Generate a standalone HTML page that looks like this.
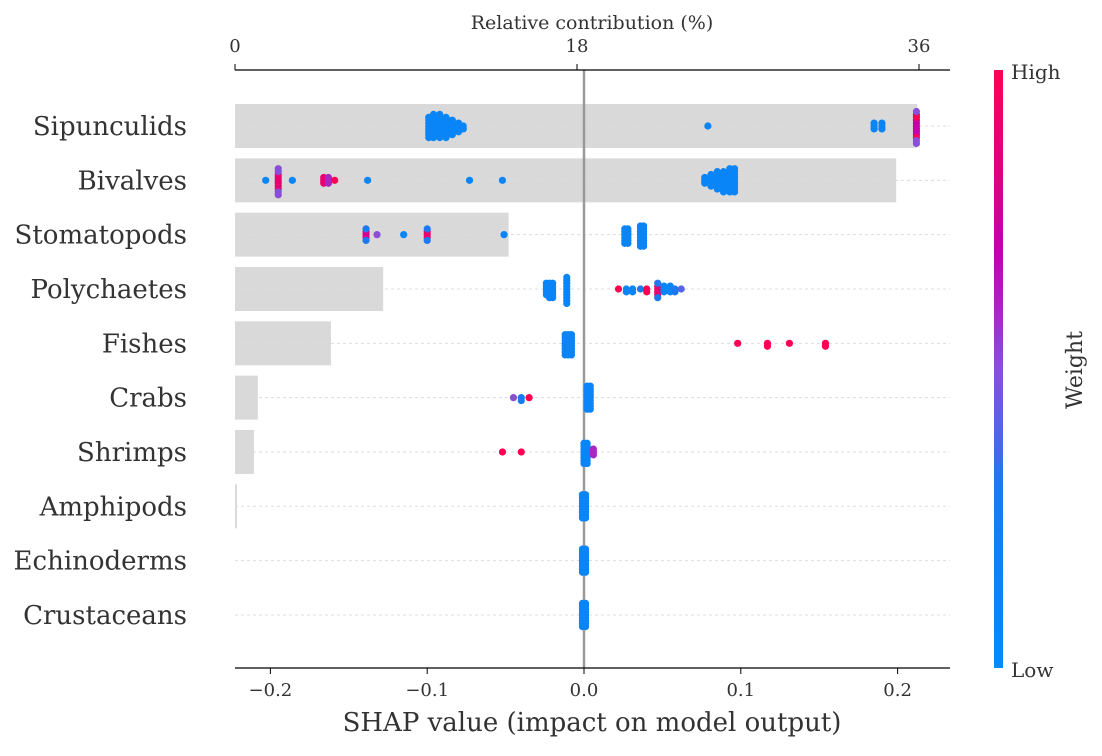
<!DOCTYPE html>
<html><head><meta charset="utf-8"><style>
body{margin:0;background:#fff;}
svg text{font-family:"DejaVu Serif","Liberation Serif",serif;fill:#333;}
</style></head><body>
<svg id="chart" width="1102" height="751" xmlns="http://www.w3.org/2000/svg">
<defs><linearGradient id="cb" x1="0" y1="1" x2="0" y2="0">
<stop offset="0" stop-color="#008bfb"/><stop offset="0.3" stop-color="#1e78f0"/><stop offset="0.5" stop-color="#8a4fd8"/><stop offset="0.7" stop-color="#c400a8"/><stop offset="1" stop-color="#ff0052"/></linearGradient></defs>
<g id="bars"></g><g id="grid"></g><g id="dots"></g><g id="axes"></g>
</svg>
<script>
const categories=["Sipunculids","Bivalves","Stomatopods","Polychaetes","Fishes","Crabs","Shrimps","Amphipods","Echinoderms","Crustaceans"];
const contribution=[35.9,34.8,14.4,7.8,5.05,1.2,1.0,0.1,0,0];
const bottomTicks=[-0.2,-0.1,0.0,0.1,0.2];
const topTicks=[0,18,36];
// [shap value, weight (0 low - 1 high), count]
const shapSipunculids=[[-0.099,0.1,8],[-0.096,0.1,9],[-0.092,0.1,9],[-0.088,0.1,8],[-0.084,0.1,6],[-0.08,0.1,4],[-0.077,0.1,2],[0.079,0.1,1],[0.185,0.1,3],[0.19,0.1,3],[0.212,0.7,6],[0.212,1,3],[0.212,0.5,3]];
const shapBivalves=[[-0.203,0.1,1],[-0.195,0.9,6],[-0.195,0.5,4],[-0.186,0.1,1],[-0.166,0.9,3],[-0.163,0.6,3],[-0.159,1,1],[-0.138,0.1,1],[-0.073,0.1,1],[-0.052,0.1,1],[0.077,0.1,3],[0.081,0.1,5],[0.085,0.1,7],[0.089,0.1,8],[0.093,0.1,9],[0.096,0.1,9]];
const shapStomatopods=[[-0.139,0.8,3],[-0.139,0.3,2],[-0.132,0.5,1],[-0.115,0.1,1],[-0.1,0.9,3],[-0.1,0.3,2],[-0.051,0.1,1],[0.026,0.1,6],[0.028,0.1,6],[0.036,0.1,8],[0.038,0.1,8]];
const shapPolychaetes=[[-0.024,0.1,5],[-0.022,0.1,6],[-0.02,0.1,6],[-0.011,0.1,10],[0.022,1,1],[0.027,0.1,2],[0.031,0.1,2],[0.036,0.3,1],[0.04,1,2],[0.047,0.9,4],[0.047,0.3,2],[0.051,0.1,3],[0.055,0.1,3],[0.058,0.3,2],[0.062,0.4,1]];
const shapFishes=[[-0.012,0.1,8],[-0.01,0.1,8],[-0.008,0.1,8],[0.098,1,1],[0.117,1,2],[0.131,1,1],[0.154,1,2]];
const shapCrabs=[[-0.045,0.5,1],[-0.04,0.2,2],[-0.035,1,1],[0.002,0.1,9],[0.004,0.1,9]];
const shapShrimps=[[-0.052,1,1],[-0.04,1,1],[0.0,0.1,8],[0.002,0.1,8],[0.006,0.6,3]];
const shapAmphipods=[[-0.001,0.1,9],[0.001,0.1,9]];
const shapEchinoderms=[[-0.001,0.1,9],[0.001,0.1,9]];
const shapCrustaceans=[[-0.001,0.1,9],[0.001,0.1,9]];
const series=[shapSipunculids,shapBivalves,shapStomatopods,shapPolychaetes,shapFishes,shapCrabs,shapShrimps,shapAmphipods,shapEchinoderms,shapCrustaceans];

const NS="http://www.w3.org/2000/svg";
const X0=235,X1=950,YT=70,YB=668;
const xs=v=>584+v*1568;
const xt=p=>235+p*19;
const yr=i=>126+i*54.33;
function el(t,a,p){const e=document.createElementNS(NS,t);for(const k in a)e.setAttribute(k,a[k]);(p||document.getElementById('chart')).appendChild(e);return e;}
function col(w){const s=[[0,[0,139,251]],[0.3,[30,120,240]],[0.5,[138,79,216]],[0.7,[196,0,168]],[1,[255,0,82]]];
for(let i=1;i<s.length;i++){if(w<=s[i][0]){const t=(w-s[i-1][0])/(s[i][0]-s[i-1][0]);const c=s[i-1][1].map((a,j)=>Math.round(a+(s[i][1][j]-a)*t));return `rgb(${c})`;}}return 'rgb(255,0,82)';}
const gB=document.getElementById('bars'),gG=document.getElementById('grid'),gD=document.getElementById('dots'),gA=document.getElementById('axes');
categories.forEach((c,i)=>{
 const y=yr(i);
 const w=xt(contribution[i])-X0;
 if(w>0){const b=el('rect',{x:X0,y:y-22,width:w,height:44,fill:'#d9d9d9'},gB);
 
 }
 const g=el('line',{x1:X0,x2:X1,y1:y,y2:y,stroke:'#ddd','stroke-dasharray':'3,3','stroke-width':1},gG);
 
 
 const t=el('text',{x:187,y:y+9,'text-anchor':'end','font-size':26},gA);t.textContent=c;
 
 
 const bins={};
 series[i].forEach(([v,wt,n])=>{for(let k=0;k<n;k++){const px=xs(v);const key=Math.round(px/3);bins[key]=(bins[key]||0)+1;const m=bins[key]-1;const off=Math.ceil(m/2)*2.9*(m%2?1:-1);
 const d=el('circle',{cx:px,cy:y+off,r:3.6,fill:col(wt)},gD);
 
 }});
});
el('line',{x1:584,x2:584,y1:YT,y2:YB,stroke:'#999','stroke-width':2.5},gG);
el('line',{x1:X0,x2:X1,y1:YB,y2:YB,stroke:'#000','stroke-width':1.2},gA);
el('line',{x1:X0,x2:X1,y1:YT,y2:YT,stroke:'#000','stroke-width':1.2},gA);
bottomTicks.forEach(v=>{const x=xs(v);el('line',{x1:x,x2:x,y1:YB,y2:YB+6,stroke:'#000'},gA);
 const t=el('text',{x:x,y:YB+28,'text-anchor':'middle','font-size':18},gA);t.textContent=(v<0?'\u2212':'')+Math.abs(v).toFixed(1);
 
 });
topTicks.forEach(p=>{const x=xt(p);el('line',{x1:x,x2:x,y1:YT,y2:YT-6,stroke:'#000'},gA);
 const t=el('text',{x:x,y:YT-18,'text-anchor':'middle','font-size':18},gA);t.textContent=p;
 
 });
let t=el('text',{x:592,y:731,'text-anchor':'middle','font-size':26},gA);t.textContent='SHAP value (impact on model output)';

t=el('text',{x:592,y:29,'text-anchor':'middle','font-size':19},gA);t.textContent='Relative contribution (%)';

const cb=el('rect',{x:994,y:70,width:9,height:598,fill:'url(#cb)'},gA);

t=el('text',{x:1011,y:79,'font-size':20},gA);t.textContent='High';

t=el('text',{x:1011,y:677,'font-size':20},gA);t.textContent='Low';

t=el('text',{x:1082,y:370,'text-anchor':'middle','font-size':22,transform:'rotate(-90 1082 370)'},gA);t.textContent='Weight';

</script>
</body></html>
